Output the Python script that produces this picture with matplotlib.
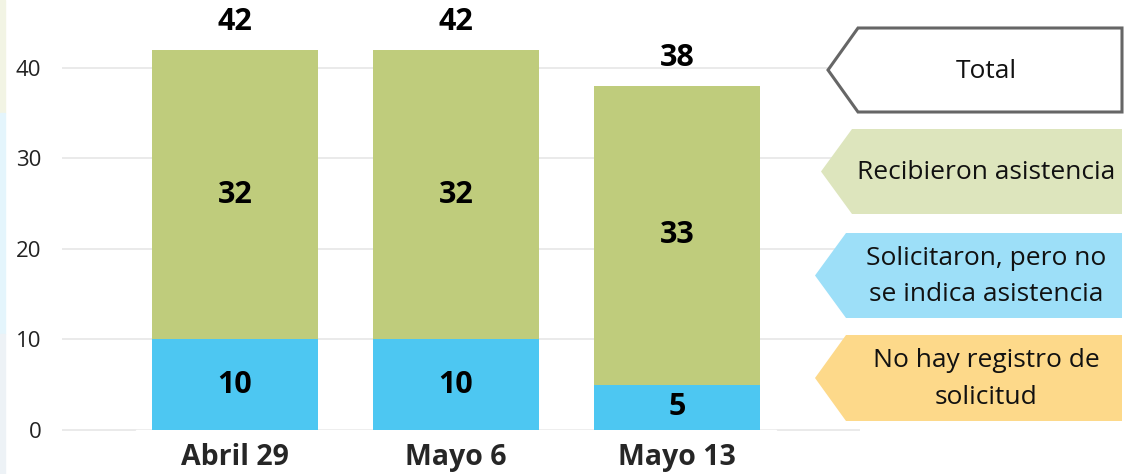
import numpy as np
import matplotlib
matplotlib.use("Agg")
import matplotlib.pyplot as plt
from matplotlib.patches import Polygon, Rectangle

# --- DATOS ---
fechas = ["Abril 29", "Mayo 6", "Mayo 13"]
solicitaron = [10, 10, 5]        # Solicitaron, pero no se indica asistencia
recibieron = [32, 32, 33]        # Recibieron asistencia
totales = [a + b for a, b in zip(solicitaron, recibieron)]

leyenda = ["Total", "Recibieron asistencia",
           "Solicitaron, pero no\nse indica asistencia",
           "No hay registro de\nsolicitud"]

# --- ESTILO ---
VERDE = "#bfcc7c"
AZUL = "#4dc7f2"
plt.rcParams["font.family"] = ["Open Sans", "DejaVu Sans"]

W, H = 1137, 474
fig = plt.figure(figsize=(W / 100, H / 100), dpi=100)

# franja de color en el borde izquierdo
for y0, y1, c in [(0, 113, "#f2f4e4"), (113, 334, "#e4f5fc"), (334, 474, "#edf2f6")]:
    fig.patches.append(Rectangle((0, 1 - y1 / H), 5 / W, (y1 - y0) / H,
                                 transform=fig.transFigure, color=c, zorder=0))


def etiqueta_flecha(x_tip, x_hombro, x_der, y_top, y_bot, relleno, borde, texto):
    """Forma de flecha hacia la izquierda, en píxeles de la figura."""
    ym = (y_top + y_bot) / 2
    pts = [(x_tip, ym), (x_hombro, y_top), (x_der, y_top), (x_der, y_bot), (x_hombro, y_bot)]
    pts = [(x / W, 1 - y / H) for x, y in pts]
    fig.patches.append(Polygon(pts, closed=True, transform=fig.transFigure,
                               facecolor=relleno, edgecolor=borde,
                               linewidth=2.2 if borde != "none" else 0, zorder=0))
    fig.text(986 / W, 1 - (ym + 1) / H, texto, ha="center", va="center",
             fontsize=19, color="#111111", linespacing=1.6)


etiqueta_flecha(828, 858, 1122, 28, 112, "white", "#666666", leyenda[0])
etiqueta_flecha(821, 852, 1122, 129, 214, "#dde5bd", "none", leyenda[1])
etiqueta_flecha(815, 846, 1122, 233, 318, "#9ddff8", "none", leyenda[2])
etiqueta_flecha(815, 846, 1122, 335, 421, "#fdd98a", "none", leyenda[3])

# --- GRÁFICO ---
ax = fig.add_axes([62 / W, (H - 434.5) / H, 798 / W, 434.5 / H])
ax.patch.set_alpha(0)
x = np.arange(len(fechas))
ancho = 0.75

ax.bar(x, solicitaron, width=ancho, color=AZUL, zorder=3)
ax.bar(x, recibieron, width=ancho, bottom=solicitaron, color=VERDE, zorder=3)

for xi, s, r, t in zip(x, solicitaron, recibieron, totales):
    ax.text(xi, s / 2, str(s), ha="center", va="center", fontsize=22,
            fontweight="bold", color="black", zorder=4)
    ax.text(xi, s + r / 2, str(r), ha="center", va="center", fontsize=22,
            fontweight="bold", color="black", zorder=4)
    ax.annotate(str(t), (xi, t), xytext=(0, 20), textcoords="offset points",
                ha="center", va="center", fontsize=22, fontweight="bold", color="black")

ax.set_xlim(-0.783, 2.828)
ax.set_ylim(-0.5, 47.5)
ax.set_yticks([0, 10, 20, 30, 40])
ax.grid(axis="y", color="#e6e6e6", linewidth=1.2, zorder=1)
ax.set_axisbelow(True)
# la línea base queda oculta bajo las etiquetas de categoría
ax.add_patch(Rectangle((-0.45, -0.5), 2.9, 0.5, color="white", zorder=2))

ax.set_xticks(x)
ax.set_xticklabels(fechas, fontsize=20.5, fontweight="bold", color="#262626")
ax.tick_params(axis="x", length=0, pad=6)
ax.tick_params(axis="y", length=0, labelsize=16, labelcolor="#222222", pad=15)
for s in ax.spines.values():
    s.set_visible(False)

fig.savefig("out.png", dpi=100)
